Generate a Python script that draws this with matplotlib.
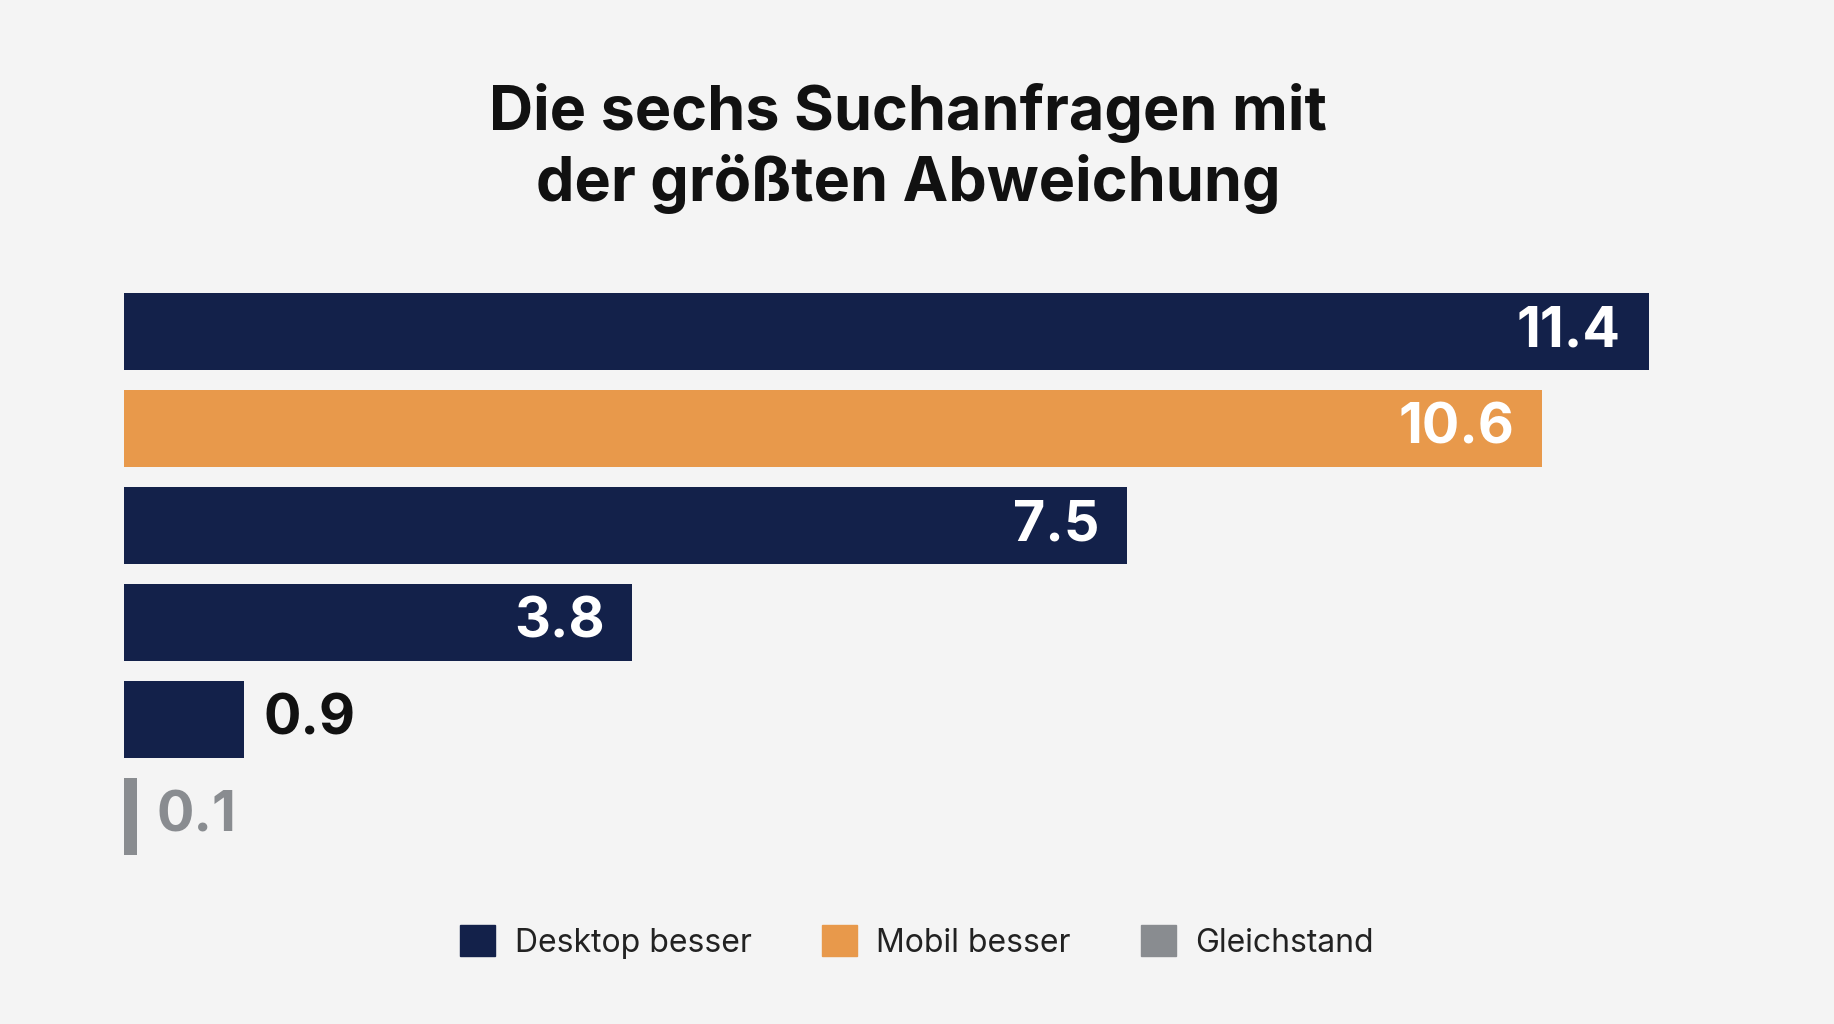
import matplotlib
matplotlib.use("Agg")
import matplotlib.pyplot as plt
from matplotlib.patches import Patch

values = [11.4, 10.6, 7.5, 3.8, 0.9, 0.1]
kinds = ["Desktop besser", "Mobil besser", "Desktop besser", "Desktop besser", "Desktop besser", "Gleichstand"]
legend_labels = ["Desktop besser", "Mobil besser", "Gleichstand"]
title = "Die sechs Suchanfragen mit\nder größten Abweichung"

colors = {"Desktop besser": "#13214a", "Mobil besser": "#e8994b", "Gleichstand": "#898c90"}
bg = "#f4f4f4"

plt.rcParams['font.family'] = ['Inter', 'DejaVu Sans']
fig = plt.figure(figsize=(18.34, 10.24), dpi=100, facecolor=bg)
ax = fig.add_axes([0.0676, 0.1646, 0.899 - 0.0676, 0.714 - 0.1646])
ax.set_facecolor(bg)
ys = list(range(len(values)))
ax.barh(ys, values, height=0.8, color=[colors[k] for k in kinds])
ax.set_xlim(0, 11.4)
ax.set_ylim(5.4, -0.4)
ax.axis("off")

for y, v, k in zip(ys, values, kinds):
    txt = f"{v:.1f}"
    if v > 2:
        ax.annotate(txt, (v, y), xytext=(-20, 0), textcoords="offset points",
                    ha="right", va="center", color="white", fontsize=40, fontweight="bold")
    else:
        c = "#111111" if k != "Gleichstand" else colors[k]
        ax.annotate(txt, (v, y), xytext=(14, 0), textcoords="offset points",
                    ha="left", va="center", color=c, fontsize=40, fontweight="bold")

fig.text(0.495, 0.855, title, ha="center", va="center", fontsize=44,
         fontweight="bold", color="#111111", linespacing=1.25)

handles = [Patch(color=colors[l]) for l in legend_labels]
fig.legend(handles, legend_labels, loc="center", bbox_to_anchor=(0.5, 0.08), ncol=3,
           frameon=False, fontsize=23, handlelength=1.1, handleheight=1.1,
           columnspacing=2.2, handletextpad=0.6, labelcolor="#222222")

fig.savefig("out.png", facecolor=bg)
